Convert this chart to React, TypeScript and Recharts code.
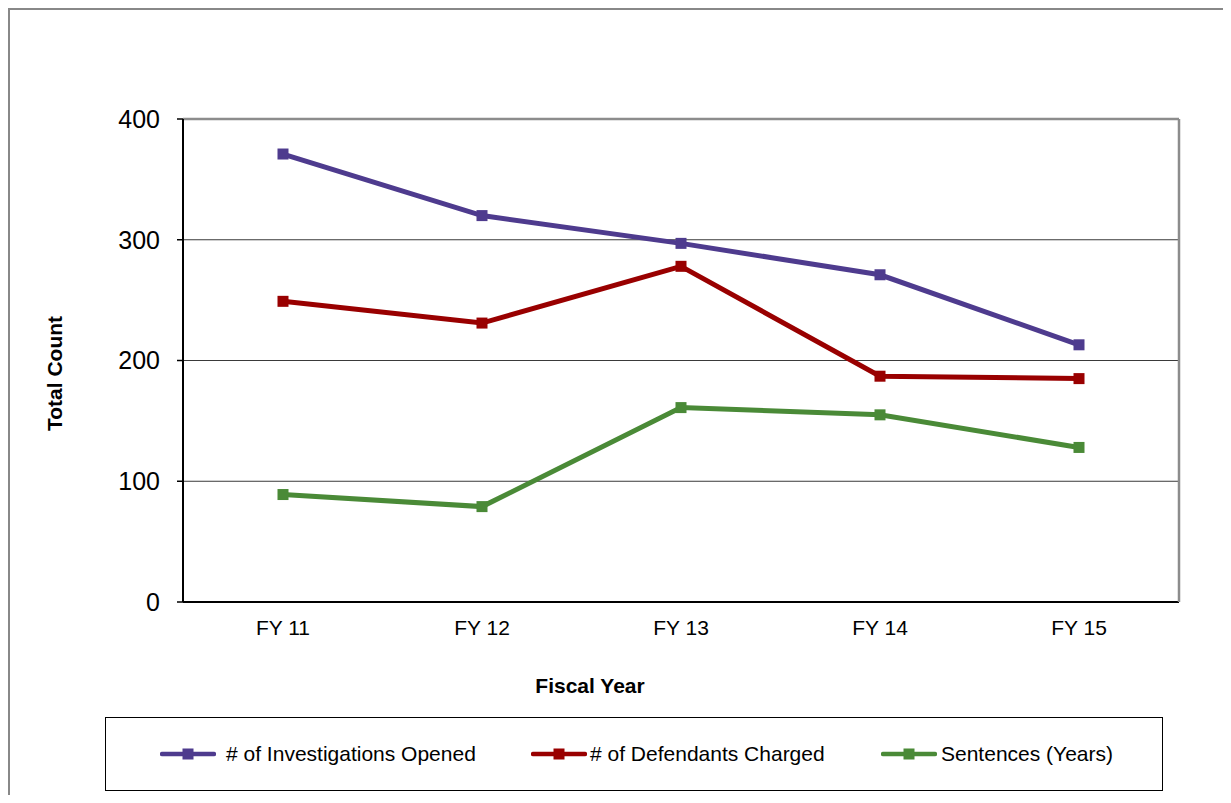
import React from "react";
import {
  LineChart,
  Line,
  XAxis,
  YAxis,
  CartesianGrid,
  Legend,
  ReferenceLine,
  Label,
} from "recharts";

const years = ["FY 11", "FY 12", "FY 13", "FY 14", "FY 15"];
const investigationsOpened = [371, 320, 297, 271, 213];
const defendantsCharged = [249, 231, 278, 187, 185];
const sentencesYears = [89, 79, 161, 155, 128];
const countTicks = [0, 100, 200, 300, 400];

const series = [
  { key: "investigations", name: "# of Investigations Opened", color: "#4e3b8e" },
  { key: "defendants", name: "# of Defendants Charged", color: "#990000" },
  { key: "sentences", name: "Sentences (Years)", color: "#4a8a37" },
];

const data = years.map((fy, i) => ({
  fy,
  investigations: investigationsOpened[i],
  defendants: defendantsCharged[i],
  sentences: sentencesYears[i],
}));

// left edge of each legend entry inside the box, and gap between icon and text
const legendLeft = [54, 425, 775];
const legendGap = [10, 3, 4];

const squareDot = (color: string) => (props: any) => {
  const { cx, cy, index } = props;
  if (cx == null || cy == null) return <g key={`${color}-${index}`} />;
  return (
    <rect
      key={`${color}-${index}`}
      x={cx - 5.5}
      y={cy - 5.5}
      width={11}
      height={11}
      fill={color}
    />
  );
};

function LegendBox() {
  return (
    <div
      style={{
        boxSizing: "border-box",
        width: 1058,
        height: 74,
        border: "1px solid #000",
        position: "relative",
        background: "#fff",
      }}
    >
      {series.map((s, i) => (
        <div
          key={s.key}
          style={{
            position: "absolute",
            left: legendLeft[i],
            top: 0,
            height: "100%",
            display: "flex",
            alignItems: "center",
            whiteSpace: "nowrap",
          }}
        >
          <svg width={56} height={12}>
            <line x1={2} y1={6} x2={54} y2={6} stroke={s.color} strokeWidth={4.5} strokeLinecap="round" />
            <rect x={22.5} y={0.5} width={11} height={11} fill={s.color} />
          </svg>
          <span style={{ marginLeft: legendGap[i], fontSize: 21, color: "#000" }}>{s.name}</span>
        </div>
      ))}
    </div>
  );
}

const YTitle = (props: any) => {
  const { x, y, height } = props.viewBox;
  const tx = x - 61;
  const ty = y + height / 2 + 13;
  return (
    <text
      x={tx}
      y={ty}
      transform={`rotate(-90, ${tx}, ${ty})`}
      textAnchor="middle"
      style={{ fontWeight: "bold", fontSize: 21, fill: "#000" }}
    >
      Total Count
    </text>
  );
};

export default function App() {
  return (
    <div
      style={{
        width: 1223,
        height: 795,
        marginBottom: -8,
        boxSizing: "border-box",
        borderLeft: "2px solid #888",
        borderTop: "2px solid #888",
        fontFamily: "'Liberation Sans', Arial, sans-serif",
        background: "#fff",
      }}
    >
      <LineChart
        width={1221}
        height={793}
        data={data}
        margin={{ top: 109, right: 51, bottom: 67, left: 113 }}
      >
        <CartesianGrid yAxisId="count" vertical={false} stroke="#3a3a3a" strokeWidth={1} />
        <XAxis
          dataKey="fy"
          height={60}
          interval={0}
          tickLine={false}
          tickSize={0}
          tickMargin={18}
          padding={{ left: 100, right: 100 }}
          axisLine={{ stroke: "#000", strokeWidth: 2 }}
          tick={{ fontSize: 21, fill: "#000" }}
        >
          <Label
            value="Fiscal Year"
            position="bottom"
            offset={16}
            dx={-91}
            style={{ fontWeight: "bold", fontSize: 21, fill: "#000" }}
          />
        </XAxis>
        <YAxis
          yAxisId="count"
          domain={[0, 400]}
          ticks={countTicks}
          interval={0}
          width={60}
          tickSize={6}
          tickMargin={17}
          axisLine={{ stroke: "#000", strokeWidth: 2 }}
          tickLine={{ stroke: "#000", strokeWidth: 1.5 }}
          tick={{ fontSize: 25, fill: "#000" }}
        >
          <Label content={YTitle} />
        </YAxis>
        <YAxis
          yAxisId="frame"
          orientation="right"
          domain={[0, 400]}
          width={1}
          tick={false}
          tickLine={false}
          axisLine={{ stroke: "#8c8c8c", strokeWidth: 2.5 }}
        />
        <ReferenceLine yAxisId="count" y={400} stroke="#8c8c8c" strokeWidth={2.5} />
        <Legend
          verticalAlign="bottom"
          content={() => <LegendBox />}
          wrapperStyle={{ left: 95, top: 707, bottom: "auto", width: 1058, height: 74 }}
        />
        {series.map((s) => (
          <Line
            key={s.key}
            yAxisId="count"
            type="linear"
            dataKey={s.key}
            name={s.name}
            stroke={s.color}
            strokeWidth={5}
            dot={squareDot(s.color)}
            activeDot={false}
            isAnimationActive={false}
          />
        ))}
      </LineChart>
    </div>
  );
}
